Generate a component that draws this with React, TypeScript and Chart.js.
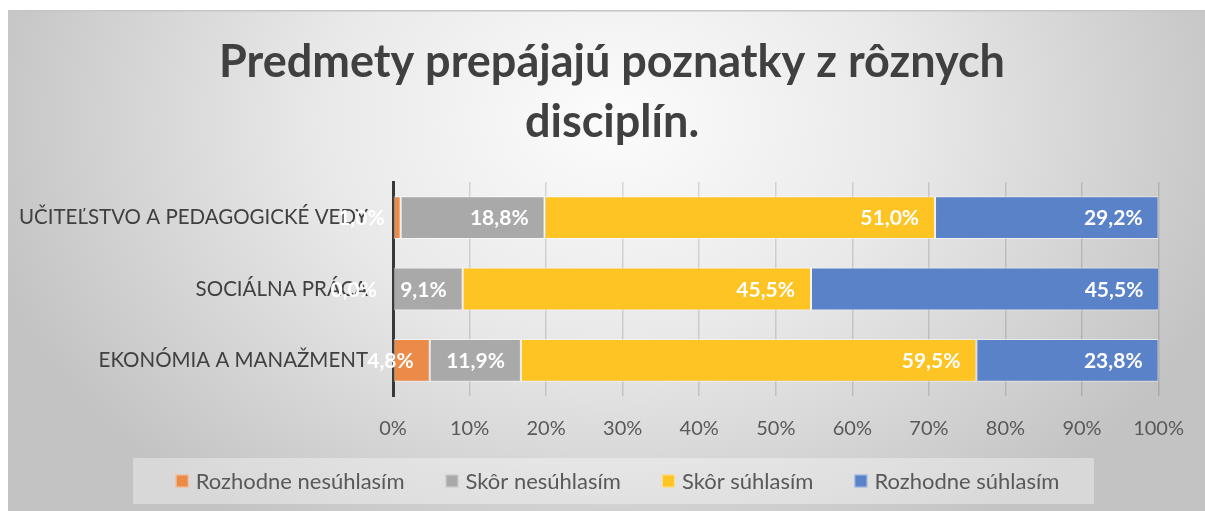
import React, { useEffect, useRef } from "react";
import { Chart, registerables } from "chart.js";

Chart.register(...registerables);

const titleLines = ["Predmety prepájajú poznatky z rôznych", "disciplín."];
const categories = [
  "UČITEĽSTVO A PEDAGOGICKÉ VEDY",
  "SOCIÁLNA PRÁCA",
  "EKONÓMIA A MANAŽMENT",
];
const seriesNames = [
  "Rozhodne nesúhlasím",
  "Skôr nesúhlasím",
  "Skôr súhlasím",
  "Rozhodne súhlasím",
];
const rozhodneNesuhlasim = [1.0, 0.0, 4.8];
const skorNesuhlasim = [18.8, 9.1, 11.9];
const skorSuhlasim = [51.0, 45.5, 59.5];
const rozhodneSuhlasim = [29.2, 45.5, 23.8];
const seriesColors = ["#EC8A48", "#A9A9A9", "#FDC424", "#5A82C8"];
const xTicks = [0, 10, 20, 30, 40, 50, 60, 70, 80, 90, 100];

const W = 1197;
const H = 501;
const FONT = "Lato, 'Open Sans', sans-serif";

const backgroundPlugin = {
  id: "bgPlugin",
  beforeDraw(chart: any) {
    const ctx = chart.ctx;
    ctx.save();
    ctx.translate(605, 110);
    ctx.scale(1, 0.75);
    const g = ctx.createRadialGradient(0, 0, 0, 0, 0, 650);
    g.addColorStop(0, "#fcfcfc");
    g.addColorStop(0.45, "#e9e9e9");
    g.addColorStop(1, "#c3c3c3");
    ctx.fillStyle = g;
    ctx.fillRect(-2000, -2000, 4000, 4000);
    ctx.restore();
    ctx.save();
    ctx.fillStyle = "#c6c6c6";
    ctx.fillRect(0, 0, W, 1.5);
    // legend box
    ctx.fillStyle = "rgba(255,255,255,0.35)";
    ctx.fillRect(125, 448, 961, 46);
    // title
    ctx.font = "bold 45px " + FONT;
    ctx.fillStyle = "#404040";
    ctx.textAlign = "center";
    ctx.textBaseline = "middle";
    titleLines.forEach((line, i) => {
      ctx.fillText(line, 604, 52 + i * 60);
    });
    ctx.restore();
  },
};

const labelsPlugin = {
  id: "labelsPlugin",
  afterDraw(chart: any) {
    const ctx = chart.ctx;
    ctx.save();
    ctx.font = "bold 21px " + FONT;
    ctx.fillStyle = "#ffffff";
    ctx.textAlign = "right";
    ctx.textBaseline = "middle";
    chart.data.datasets.forEach((ds: any, di: number) => {
      const meta = chart.getDatasetMeta(di);
      meta.data.forEach((el: any, i: number) => {
        const v = ds.data[i];
        const txt = v.toFixed(1).replace(".", ",") + "%";
        ctx.fillText(txt, el.x - 16, el.y + 1);
      });
    });
    ctx.restore();

    // legend
    ctx.save();
    ctx.font = "22px " + FONT;
    ctx.textBaseline = "middle";
    ctx.textAlign = "left";
    const box = 13;
    const gapBox = 7;
    const gapItem = 41;
    const widths = chart.data.datasets.map(
      (ds: any) => box + gapBox + ctx.measureText(ds.label).width
    );
    const total =
      widths.reduce((a: number, b: number) => a + b, 0) +
      gapItem * (widths.length - 1);
    let x = 125 + 961 / 2 - total / 2 + 4;
    const cy = 471;
    chart.data.datasets.forEach((ds: any, di: number) => {
      ctx.fillStyle = ds.backgroundColor;
      ctx.fillRect(x, cy - box / 2, box, box);
      ctx.strokeStyle = "rgba(255,255,255,0.5)";
      ctx.lineWidth = 1;
      ctx.strokeRect(x + 0.5, cy - box / 2 + 0.5, box - 1, box - 1);
      ctx.fillStyle = "#595959";
      ctx.fillText(ds.label, x + box + gapBox, cy + 1);
      x += widths[di] + gapItem;
    });
    ctx.restore();
  },
};

export default function App() {
  const ref = useRef<HTMLCanvasElement>(null);
  useEffect(() => {
    if (!ref.current) return;
    const values = [
      rozhodneNesuhlasim,
      skorNesuhlasim,
      skorSuhlasim,
      rozhodneSuhlasim,
    ];
    const chart = new Chart(ref.current, {
      type: "bar",
      data: {
        labels: categories,
        datasets: values.map((d, i) => ({
          label: seriesNames[i],
          data: d,
          backgroundColor: seriesColors[i],
          borderColor: "rgba(255,255,255,0.55)",
          borderWidth: 1,
          borderSkipped: false,
          categoryPercentage: 1,
          barPercentage: 0.6,
        })),
      },
      options: {
        indexAxis: "y",
        responsive: false,
        animation: false,
        layout: { padding: { left: 0, right: 45, top: 172, bottom: 53 } },
        plugins: {
          legend: { display: false },
          tooltip: { enabled: false },
          title: { display: false },
        },
        scales: {
          x: {
            stacked: true,
            min: 0,
            max: 100,
            z: 1,
            afterFit(scale: any) {
              scale.height = 62;
            },
            afterBuildTicks(scale: any) {
              scale.ticks = xTicks.map((v) => ({ value: v }));
            },
            ticks: {
              stepSize: 10,
              color: "#595959",
              font: { family: FONT, size: 20 },
              padding: 21,
              callback: (v: any) => v + "%",
              maxRotation: 0,
            },
            grid: {
              color: "rgba(0,0,0,0.13)",
              lineWidth: 1.5,
              drawTicks: false,
            },
            border: { display: false },
          },
          y: {
            stacked: true,
            z: 2,
            afterFit(scale: any) {
              scale.width = 385;
            },
            ticks: {
              color: "#404040",
              font: { family: FONT, size: 20.5 },
              padding: 25,
            },
            grid: { display: false, drawTicks: false },
            border: { display: true, color: "#383838", width: 3 },
          },
        },
      },
      plugins: [backgroundPlugin, labelsPlugin],
    });
    return () => chart.destroy();
  }, []);
  return (
    <div style={{ position: "fixed", left: 8, top: 10, width: W, height: H }}>
      <canvas ref={ref} width={W} height={H} style={{ width: W, height: H, display: "block" }} />
    </div>
  );
}
